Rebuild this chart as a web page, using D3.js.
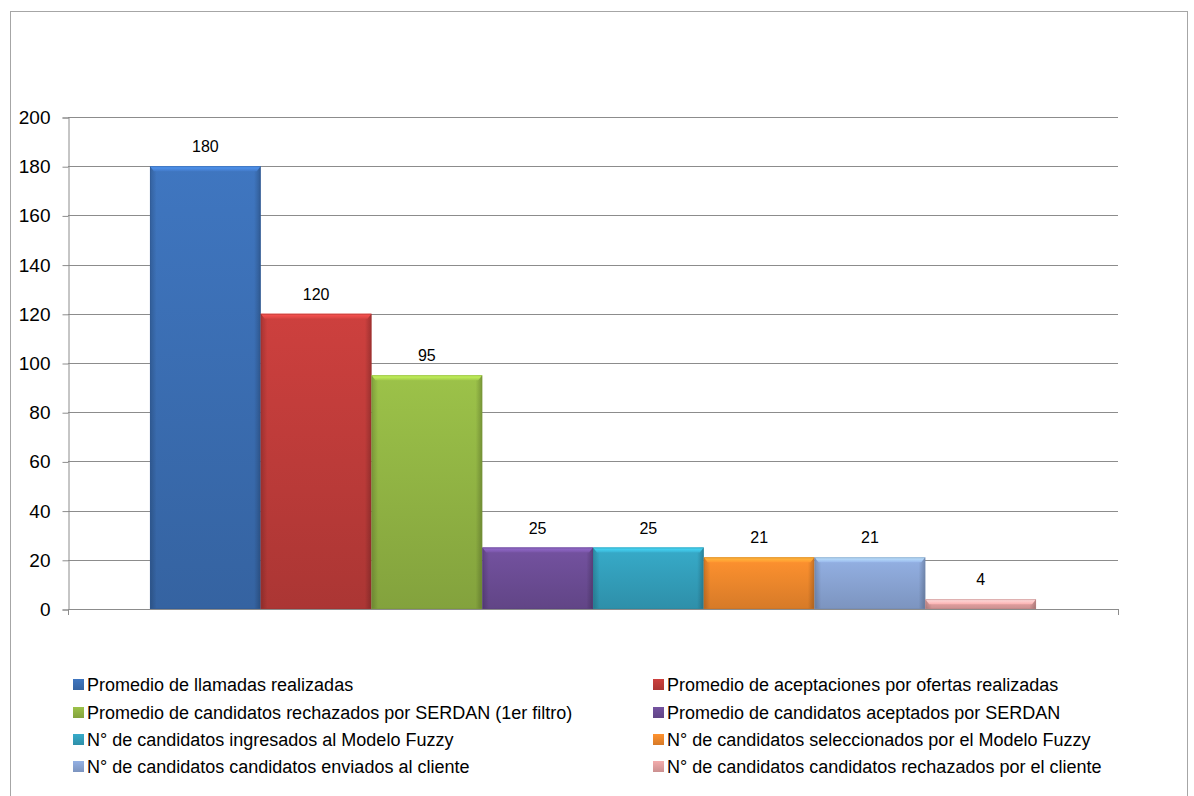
<!DOCTYPE html>
<html>
<head>
<meta charset="utf-8">
<script src="https://cdn.jsdelivr.net/npm/d3@7"></script>
<style>
  body { margin: 0; background: #fff; }
  svg { display: block; }
</style>
</head>
<body>
<svg id="chart" width="1194" height="796"></svg>
<script>
// Series (one bar each) and their values
const seriesNames = [
  "Promedio de llamadas realizadas",
  "Promedio de aceptaciones por ofertas realizadas",
  "Promedio de candidatos rechazados por SERDAN (1er filtro)",
  "Promedio de candidatos aceptados por SERDAN",
  "N° de candidatos ingresados al Modelo Fuzzy",
  "N° de candidatos seleccionados por el Modelo Fuzzy",
  "N° de candidatos candidatos enviados al cliente",
  "N° de candidatos candidatos rechazados por el cliente"
];
const seriesValues = [180, 120, 95, 25, 25, 21, 21, 4];
const seriesColors = ["#3c70b6", "#c23d3b", "#94b845", "#6e4e98", "#34a2bf", "#f38a2d", "#8ca8d8", "#e6a3a3"];
const yTicks = [0, 20, 40, 60, 80, 100, 120, 140, 160, 180, 200];

const FONT = "Liberation Sans, Arial, sans-serif";
const svg = d3.select("#chart");
const plot = { left: 68, right: 1118, top: 117, bottom: 609 };

// outer chart border
svg.append("rect")
  .attr("x", 10.5).attr("y", 11.5).attr("width", 1177).attr("height", 800)
  .attr("fill", "none").attr("stroke", "#a6a6a6").attr("stroke-width", 1);

const y = d3.scaleLinear().domain([0, 200]).range([plot.bottom, plot.top]);
const x = d3.scaleBand().domain(seriesNames).range([plot.left, plot.right])
  .paddingInner(0).paddingOuter(0.74);

const defs = svg.append("defs");
seriesColors.forEach((c, i) => {
  const base = d3.color(c);
  const g = defs.append("linearGradient").attr("id", "gv" + i)
    .attr("x1", 0).attr("y1", 0).attr("x2", 0).attr("y2", 1);
  g.append("stop").attr("offset", "0%").attr("stop-color", base.brighter(0.15));
  g.append("stop").attr("offset", "100%").attr("stop-color", base.darker(0.35));
  const t = defs.append("linearGradient").attr("id", "gt" + i)
    .attr("x1", 0).attr("y1", 0).attr("x2", 0).attr("y2", 1);
  t.append("stop").attr("offset", "0%").attr("stop-color", base.brighter(0.9));
  t.append("stop").attr("offset", "100%").attr("stop-color", base.brighter(0.25));
});
// dark side shading overlay
const side = defs.append("linearGradient").attr("id", "side")
  .attr("x1", 0).attr("y1", 0).attr("x2", 1).attr("y2", 0);
side.append("stop").attr("offset", "0%").attr("stop-color", "#000").attr("stop-opacity", 0.18);
side.append("stop").attr("offset", "6%").attr("stop-color", "#000").attr("stop-opacity", 0);
side.append("stop").attr("offset", "94%").attr("stop-color", "#000").attr("stop-opacity", 0);
side.append("stop").attr("offset", "100%").attr("stop-color", "#000").attr("stop-opacity", 0.22);

// gridlines
svg.append("g").selectAll("line").data(yTicks.filter(d => d > 0)).join("line")
  .attr("x1", plot.left).attr("x2", plot.right)
  .attr("y1", d => Math.round(y(d)) + 0.5).attr("y2", d => Math.round(y(d)) + 0.5)
  .attr("stroke", "#8c8c8c").attr("stroke-width", 1);

// y axis
const yAxis = d3.axisLeft(y).tickValues(yTicks).tickSize(6).tickPadding(12);
const ya = svg.append("g").attr("transform", `translate(${plot.left + 0.5},0.5)`).call(yAxis);
ya.select(".domain").attr("stroke", "#8c8c8c");
ya.selectAll(".tick line").attr("stroke", "#8c8c8c");
ya.selectAll(".tick text").attr("font-family", FONT)
  .attr("font-size", 19).attr("fill", "#000");

// bars
const bars = svg.append("g");
seriesNames.forEach((name, i) => {
  const v = seriesValues[i];
  const bx = x(name), bw = x.bandwidth();
  const by = y(v), bh = y(0) - y(v);
  bars.append("rect").attr("x", bx).attr("y", by).attr("width", bw).attr("height", bh)
    .attr("fill", `url(#gv${i})`);
  bars.append("rect").attr("x", bx).attr("y", by).attr("width", bw).attr("height", bh)
    .attr("fill", "url(#side)");
  // bevelled top edge
  const th = Math.min(5, bh);
  bars.append("path")
    .attr("d", `M${bx},${by} L${bx + bw},${by} L${bx + bw - 4},${by + th} L${bx + 4},${by + th} Z`)
    .attr("fill", `url(#gt${i})`);
  bars.append("rect").attr("x", bx + 0.5).attr("y", by + 0.5).attr("width", bw - 1).attr("height", bh - 1)
    .attr("fill", "none").attr("stroke", d3.color(seriesColors[i]).darker(0.6)).attr("stroke-opacity", 0.5);
  // value label
  svg.append("text").attr("x", bx + bw / 2).attr("y", by - 14)
    .attr("text-anchor", "middle")
    .attr("font-family", FONT)
    .attr("font-size", 16).attr("fill", "#000").text(v);
});

// x axis line with end ticks
const xa = svg.append("g");
xa.append("line").attr("x1", plot.left).attr("x2", plot.right)
  .attr("y1", plot.bottom + 0.5).attr("y2", plot.bottom + 0.5).attr("stroke", "#8c8c8c");
[plot.left, plot.right].forEach(px => {
  xa.append("line").attr("x1", px + 0.5).attr("x2", px + 0.5)
    .attr("y1", plot.bottom).attr("y2", plot.bottom + 6).attr("stroke", "#8c8c8c");
});

// legend: two columns, four rows
const legend = svg.append("g");
const colX = [87, 667];
const rowY = [685, 713, 740, 767];
seriesNames.forEach((name, i) => {
  const lx = colX[i % 2], ly = rowY[Math.floor(i / 2)];
  legend.append("rect").attr("x", lx - 14).attr("y", ly - 6).attr("width", 11).attr("height", 11)
    .attr("fill", `url(#gv${i})`);
  legend.append("text").attr("x", lx).attr("y", ly + 6)
    .attr("font-family", FONT)
    .attr("font-size", 18).attr("fill", "#000").text(name);
});
</script>
</body>
</html>
